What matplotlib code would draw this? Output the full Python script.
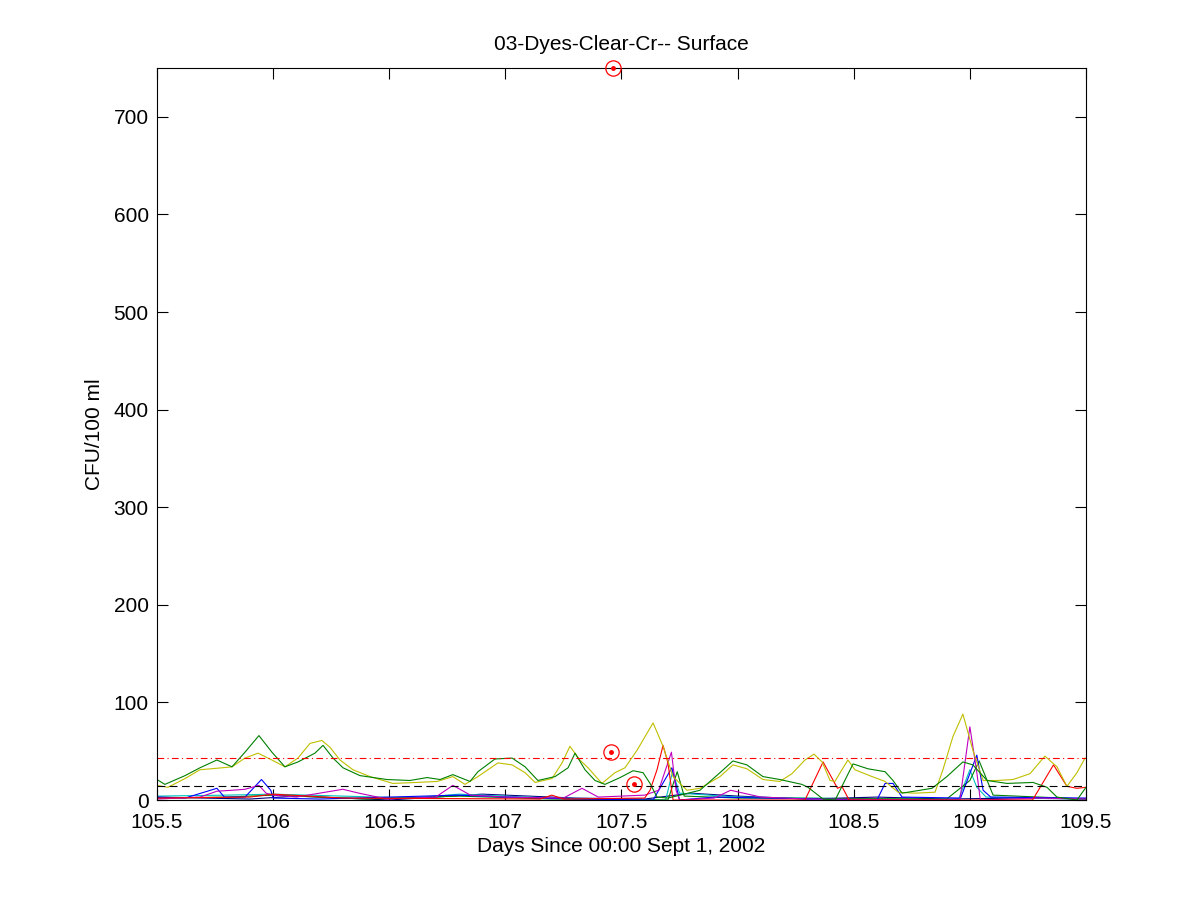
import matplotlib
matplotlib.use("Agg")
import matplotlib.pyplot as plt

plt.rcParams['font.family'] = ['Liberation Sans', 'DejaVu Sans']

# ---- data ----
x_ticks = [105.5, 106, 106.5, 107, 107.5, 108, 108.5, 109, 109.5]
x_tick_labels = ["105.5", "106", "106.5", "107", "107.5", "108", "108.5", "109", "109.5"]
y_ticks = [0, 100, 200, 300, 400, 500, 600, 700]

green1_x = [105.5, 105.534, 105.621, 105.685, 105.758, 105.823, 105.879, 105.939, 105.995, 106.051,
            106.107, 106.18, 106.215, 106.258, 106.301, 106.374, 106.49, 106.589, 106.663, 106.719,
            106.774, 106.848, 106.882, 106.955, 107.029, 107.085, 107.14, 107.214, 107.27, 107.3,
            107.343, 107.386, 107.429, 107.494, 107.55, 107.593, 107.623, 107.653, 107.7, 107.838,
            107.924, 107.98, 108.04, 108.109, 108.182, 108.277, 108.303, 108.368, 108.42, 108.497,
            108.561, 108.635, 108.669, 108.708, 108.837, 108.901, 108.97, 109.013, 109.074, 109.16,
            109.272, 109.332, 109.375, 109.461, 109.5]
green1_y = [21, 16, 25, 33, 41, 34, 49, 66, 49, 34,
            39, 48, 56, 43, 33, 25, 21, 20, 23, 21,
            26, 19, 29, 42, 43, 34, 20, 24, 33, 48,
            31, 20, 16, 23, 30, 28, 17, 3, 2, 10,
            28, 40, 36, 24, 21, 16, 13, 1, 0, 37,
            32, 29, 20, 7, 12, 24, 39, 36, 20, 17,
            18, 13, 3, 0, 13]

yellow_x = [105.5, 105.547, 105.621, 105.685, 105.78, 105.823, 105.879, 105.935, 105.995, 106.051,
            106.107, 106.159, 106.21, 106.245, 106.288, 106.344, 106.417, 106.516, 106.619, 106.706,
            106.774, 106.826, 106.882, 106.968, 107.029, 107.085, 107.128, 107.201, 107.244, 107.278,
            107.321, 107.356, 107.416, 107.472, 107.515, 107.567, 107.636, 107.679, 107.722, 107.782,
            107.838, 107.924, 107.98, 108.04, 108.109, 108.182, 108.234, 108.29, 108.329, 108.364,
            108.398, 108.419, 108.449, 108.475, 108.505, 108.579, 108.635, 108.691, 108.764, 108.85,
            108.884, 108.927, 108.97, 109.013, 109.057, 109.117, 109.186, 109.259, 109.323, 109.375,
            109.418, 109.461, 109.496]
yellow_y = [15, 13, 22, 31, 33, 34, 43, 48, 41, 34,
            43, 58, 61, 54, 41, 31, 24, 17, 18, 19,
            24, 16, 24, 38, 36, 28, 18, 22, 38, 55,
            41, 33, 17, 28, 33, 51, 79, 55, 24, 10,
            12, 24, 36, 32, 21, 19, 27, 41, 47, 39,
            20, 19, 31, 41, 31, 24, 19, 8, 7, 8,
            31, 65, 88, 51, 20, 20, 21, 27, 45, 34,
            14, 28, 43]

red_x = [105.5, 105.9, 106.0, 106.3, 107.15, 107.2, 107.25, 107.6, 107.623, 107.653,
         107.679, 107.7, 107.722, 108.29, 108.368, 108.398, 108.43, 108.449, 108.48, 109.27,
         109.36, 109.418, 109.461, 109.5]
red_y = [2, 3, 6, 2, 1, 5, 1, 2, 10, 31,
         56, 38, 0, 0, 39, 26, 12, 14, 0, 0,
         36, 14, 12, 13]

magenta_x = [105.5, 105.685, 105.758, 105.823, 105.879, 105.939, 105.97, 106.0, 106.1, 106.2,
             106.3, 106.37, 106.49, 106.7, 106.774, 106.85, 107.0, 107.25, 107.33, 107.4,
             107.6, 107.66, 107.715, 107.735, 107.75, 107.9, 107.97, 108.1, 108.3, 108.957,
             109.0, 109.03, 109.045, 109.3, 109.5]
magenta_y = [1, 3, 9, 10, 11, 15, 7, 5, 3, 7,
             11, 7, 1, 3, 15, 5, 3, 2, 12, 3,
             5, 10, 49, 10, 0, 2, 10, 3, 1, 0,
             75, 28, 0, 2, 1]

blue_x = [105.5, 105.621, 105.758, 105.79, 105.879, 105.95, 105.99, 106.0, 106.2, 106.8,
          107.0, 107.3, 107.636, 107.717, 107.75, 107.9, 108.6, 108.635, 108.669, 108.708,
          108.96, 109.03, 109.057, 109.09, 109.5]
blue_y = [3, 2, 12, 3, 3, 21, 10, 2, 1, 5,
          3, 1, 0, 33, 0, 3, 0, 17, 17, 3,
          2, 46, 10, 3, 2]

cyan_x = [105.5, 105.8, 106.0, 106.3, 106.6, 106.8, 107.2, 107.69, 107.72, 107.75,
          108.0, 108.95, 109.0, 109.03, 109.07, 109.5]
cyan_y = [4, 5, 6, 4, 2, 6, 2, 0, 29, 7,
          3, 0, 31, 13, 3, 1]

green2_x = [105.5, 105.8, 106.0, 106.4, 106.8, 107.2, 107.7, 107.74, 107.77, 108.0,
            108.9, 109.0, 109.04, 109.1, 109.5]
green2_y = [2, 3, 5, 1, 4, 1, 0, 29, 4, 2,
            1, 20, 40, 5, 1]

navy_x = [105.5, 105.9, 106.1, 106.5, 106.9, 107.3, 107.6, 107.8, 108.0, 108.3, 108.6, 108.9, 109.2, 109.5]
navy_y = [3, 1, 4, 0, 6, 2, 1, 7, 4, 1, 3, 1, 2, 1]

threshold_high = 43
threshold_low = 14

marker_x = [107.463, 107.455, 107.554]
marker_y = [750, 49, 16]

title = "03-Dyes-Clear-Cr-- Surface"
x_label = "Days Since 00:00 Sept 1, 2002"
y_label = "CFU/100 ml"

# ---- plot ----
fig = plt.figure(figsize=(12, 9), dpi=100)
ax = fig.add_axes([0.1308, 0.1111, 0.7742, 0.8133])

lw = 0.8
ax.plot(navy_x, navy_y, color=(0.0, 0.0, 0.5), lw=lw)
ax.plot(cyan_x, cyan_y, color=(0.0, 0.75, 0.75), lw=lw)
ax.plot(green2_x, green2_y, color=(0.0, 0.5, 0.0), lw=lw)
ax.plot(blue_x, blue_y, color=(0.0, 0.0, 1.0), lw=lw)
ax.plot(magenta_x, magenta_y, color=(0.75, 0.0, 0.75), lw=lw)
ax.plot(red_x, red_y, color=(1.0, 0.0, 0.0), lw=lw)
ax.plot(yellow_x, yellow_y, color=(0.75, 0.75, 0.0), lw=lw)
ax.plot(green1_x, green1_y, color=(0.0, 0.5, 0.0), lw=lw)

ax.axhline(threshold_high, color='red', lw=0.8, linestyle=(0, (6, 3, 1, 3)))
ax.axhline(threshold_low, color='black', lw=0.8, linestyle=(0, (7, 4)))

ax.plot(marker_x, marker_y, 'o', ms=11, mfc='none', mec='red', mew=0.9, clip_on=False, zorder=5)
ax.plot(marker_x, marker_y, '.', ms=5, color='red', clip_on=False, zorder=5)

ax.set_xlim(105.5, 109.5)
ax.set_ylim(0, 750)
ax.set_xticks(x_ticks)
ax.set_xticklabels(x_tick_labels)
ax.set_yticks(y_ticks)
ax.tick_params(direction='in', length=8, width=0.8, top=True, right=True, labelsize=15)
ax.tick_params(axis='x', pad=9)
ax.tick_params(axis='y', pad=6)
for s in ax.spines.values():
    s.set_linewidth(0.8)

ax.set_title(title, fontsize=15, pad=13)
ax.set_xlabel(x_label, fontsize=15, labelpad=4)
ax.set_ylabel(y_label, fontsize=15, labelpad=7)

fig.savefig("out.png", dpi=100)
